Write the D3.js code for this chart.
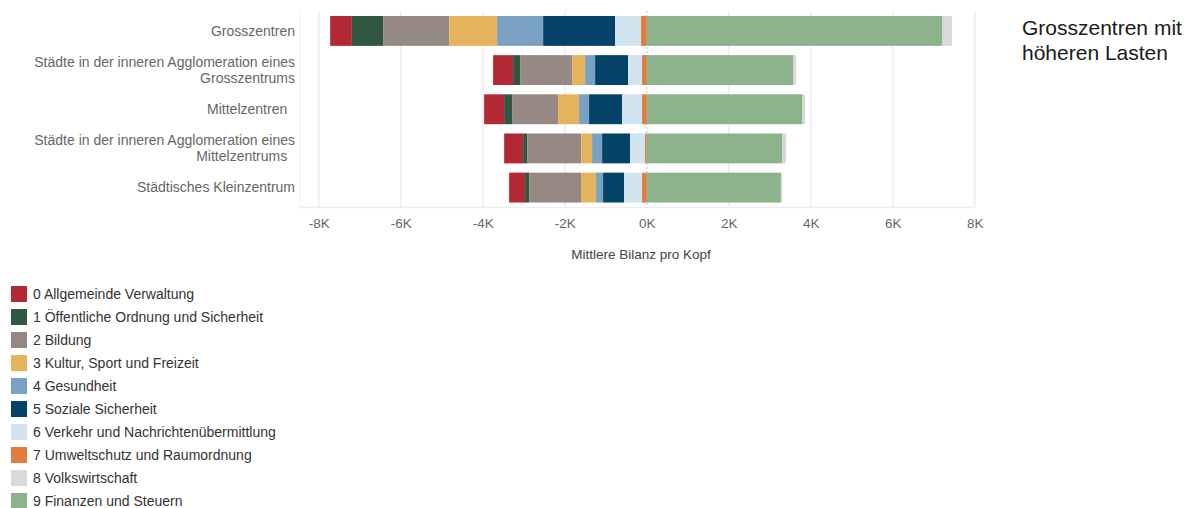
<!DOCTYPE html>
<html>
<head>
<meta charset="utf-8">
<script src="https://cdn.jsdelivr.net/npm/d3@7"></script>
<style>
  html, body { margin: 0; padding: 0; background: #fff; }
  svg { display: block; font-family: "Liberation Sans", Arial, sans-serif; }
</style>
</head>
<body>
<svg id="chart" width="1193" height="508"></svg>
<script>
// ---------- DATA ----------
const categories = [
  "Grosszentren",
  "Städte in der inneren Agglomeration eines Grosszentrums",
  "Mittelzentren ",
  "Städte in der inneren Agglomeration eines Mittelzentrums ",
  "Städtisches Kleinzentrum"
];
const seriesLabels = [
  "0 Allgemeinde Verwaltung",
  "1 Öffentliche Ordnung und Sicherheit",
  "2 Bildung",
  "3 Kultur, Sport und Freizeit",
  "4 Gesundheit",
  "5 Soziale Sicherheit",
  "6 Verkehr und Nachrichtenübermittlung",
  "7 Umweltschutz und Raumordnung",
  "8 Volkswirtschaft",
  "9 Finanzen und Steuern"
];
const seriesColors = ["#b22834", "#2f5741", "#968882", "#e5b35b", "#7aa1c1",
                      "#044267", "#d1e3ef", "#e07c3c", "#d9d9d9", "#8cb38b"];
// values per series, one entry per category (mean balance per head)
const s0Verwaltung   = [-529, -488, -488, -463, -390];
const s1Ordnung      = [-763, -171, -195,  -98,  -98];
const s2Bildung      = [-1610, -1268, -1122, -1317, -1268];
const s3Kultur       = [-1171, -317, -512, -268, -366];
const s4Gesundheit   = [-1122, -244, -244, -244, -171];
const s5Soziale      = [-1756, -805, -805, -683, -512];
const s6Verkehr      = [-634, -341, -488, -366, -439];
const s7Umwelt       = [-139, -115, -115,  -41, -115];
const s8Volkswirt    = [244,   73,   73,   98,   30];
const s9Finanzen     = [7202, 3568, 3788, 3300, 3270];
const xTickValues = [-8000, -6000, -4000, -2000, 0, 2000, 4000, 6000, 8000];
const xTickLabels = ["-8K", "-6K", "-4K", "-2K", "0K", "2K", "4K", "6K", "8K"];
const axisTitle = "Mittlere Bilanz pro Kopf";
const titleLines = ["Grosszentren mit", "höheren Lasten"];

const seriesValues = [s0Verwaltung, s1Ordnung, s2Bildung, s3Kultur, s4Gesundheit,
                      s5Soziale, s6Verkehr, s7Umwelt, s8Volkswirt, s9Finanzen];

// ---------- BUILD TABLE ----------
const keys = seriesLabels.map((d, i) => "s" + i);
const table = categories.map((c, ci) => {
  const row = { category: c };
  keys.forEach((k, si) => row[k] = seriesValues[si][ci]);
  return row;
});

const stack = d3.stack()
  .keys(keys)
  .order(d3.stackOrderReverse)
  .offset(d3.stackOffsetDiverging);
const stacked = stack(table);

// ---------- SCALES ----------
const svg = d3.select("#chart");
const x = d3.scaleLinear().domain([-8460, 8030]).range([300, 976]);
const y = d3.scaleBand().domain(categories).range([11, 207.5])
  .paddingInner(0.237).paddingOuter(0.127);

// ---------- GRID ----------
const grid = svg.append("g");
grid.selectAll("line.grid").data(xTickValues.filter(d => d !== 0)).join("line")
  .attr("class", "grid")
  .attr("x1", d => x(d)).attr("x2", d => x(d))
  .attr("y1", 11).attr("y2", 207.5)
  .attr("stroke", "#eeeeee").attr("stroke-width", 1.5);
// left + bottom frame lines
grid.append("line").attr("x1", 300).attr("x2", 300).attr("y1", 11).attr("y2", 207.5)
  .attr("stroke", "#f0f0f0").attr("stroke-width", 1);
grid.append("line").attr("x1", 300).attr("x2", x(8000)).attr("y1", 207.5).attr("y2", 207.5)
  .attr("stroke", "#eeeeee").attr("stroke-width", 1.5);
// zero dashed line
grid.append("line").attr("x1", x(0)).attr("x2", x(0)).attr("y1", 11).attr("y2", 207.5)
  .attr("stroke", "#c8c8c8").attr("stroke-width", 1.2).attr("stroke-dasharray", "2,2");

// ---------- BARS ----------
svg.append("g").selectAll("g").data(stacked).join("g")
  .attr("fill", d => seriesColors[keys.indexOf(d.key)])
  .selectAll("rect").data(d => d).join("rect")
  .attr("x", d => x(Math.min(d[0], d[1])))
  .attr("width", d => Math.abs(x(d[1]) - x(d[0])))
  .attr("y", d => y(d.data.category))
  .attr("height", y.bandwidth());

// ---------- X AXIS ----------
const xAxis = d3.axisBottom(x).tickValues(xTickValues)
  .tickFormat((d, i) => xTickLabels[i]).tickSize(0).tickPadding(0);
const xg = svg.append("g").attr("transform", "translate(0,218)").call(xAxis);
xg.select(".domain").remove();
xg.selectAll("text").attr("fill", "#666").attr("font-size", "13.5px")
  .attr("font-family", "'Liberation Sans', Arial, sans-serif")
  .attr("dy", "0.71em");

svg.append("text").attr("x", 641).attr("y", 259).attr("text-anchor", "middle")
  .attr("fill", "#444").attr("font-size", "13.5px").text(axisTitle);

// ---------- Y LABELS ----------
const labelG = svg.append("g");
categories.forEach(c => {
  const words = c.split(" ");
  const t = labelG.append("text").attr("font-size", "14px").attr("fill", "#666")
    .attr("text-anchor", "end").style("white-space", "pre");
  let lines = [], cur = "";
  const probe = t.append("tspan");
  words.forEach(w => {
    const test = cur ? cur + " " + w : w;
    probe.text(test);
    if (probe.node().getComputedTextLength() > 275 && cur) { lines.push(cur); cur = w; }
    else cur = test;
  });
  lines.push(cur + (c.endsWith(" ") ? " " : ""));
  probe.remove();
  const cy = y(c) + y.bandwidth() / 2;
  const lh = 16;
  lines.forEach((ln, li) => {
    t.append("tspan").attr("x", 295)
      .attr("y", cy + (li - (lines.length - 1) / 2) * lh)
      .attr("dy", "0.35em").text(ln);
  });
});

// ---------- LEGEND ----------
const leg = svg.append("g");
seriesLabels.forEach((lab, i) => {
  const cy = 294 + i * 23;
  leg.append("rect").attr("x", 11).attr("y", cy - 8).attr("width", 16).attr("height", 16)
    .attr("fill", seriesColors[i]);
  leg.append("text").attr("x", 33).attr("y", cy).attr("dy", "0.35em")
    .attr("font-size", "14px").attr("fill", "#333").text(lab);
});

// ---------- TITLE ----------
titleLines.forEach((ln, i) => {
  svg.append("text").attr("x", 1022).attr("y", 35 + i * 25)
    .attr("font-size", "21px").attr("fill", "#1a1a1a").text(ln);
});
</script>
</body>
</html>
